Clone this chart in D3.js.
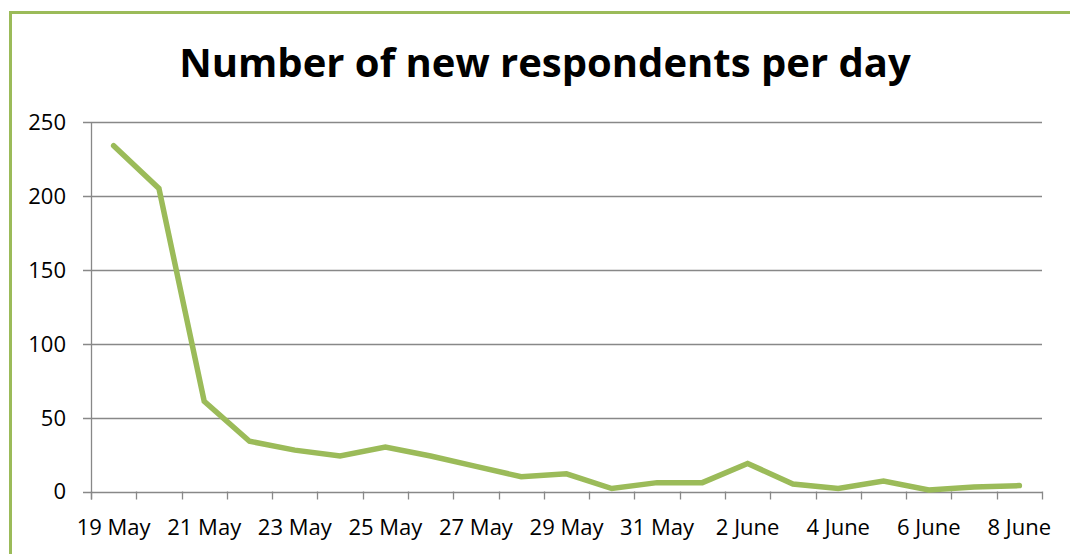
<!DOCTYPE html>
<html><head><meta charset="utf-8">
<script src="https://cdn.jsdelivr.net/npm/d3@7"></script>
<style>html,body{margin:0;padding:0;background:#fff;}svg{display:block;}</style>
</head><body>
<svg id="chart" width="1070" height="554"></svg>
<script>
const categories = ["19 May","20 May","21 May","22 May","23 May","24 May","25 May","26 May","27 May","28 May","29 May","30 May","31 May","1 June","2 June","3 June","4 June","5 June","6 June","7 June","8 June"];
const values = [234,205,61,34,28,24,30,24,17,10,12,2,6,6,19,5,2,7,1,3,4];
const yTicks = [0,50,100,150,200,250];
const title = "Number of new respondents per day";

const svg = d3.select("#chart");
const green = "#9BBB59";
const grid = "#888888";
const plotLeft = 91, plotRight = 1042, plotTop = 122, plotBottom = 491.5;

// frame
svg.append("path").attr("d", `M10.5,554 L10.5,12.5 L1070,12.5`).attr("fill","none").attr("stroke",green).attr("stroke-width",3);

svg.append("text").attr("x",545).attr("y",77).attr("text-anchor","middle")
  .attr("font-family","'Open Sans', sans-serif").attr("font-weight","bold").attr("font-size",40)
  .attr("fill","#000").text(title);

const x = d3.scaleBand().domain(categories).range([plotLeft,plotRight]).padding(0);
const y = d3.scaleLinear().domain([0,250]).range([plotBottom,plotTop]);

// gridlines
svg.append("g").selectAll("line").data(yTicks).join("line")
  .attr("x1",plotLeft-8).attr("x2",plotRight).attr("y1",d=>Math.round(y(d))+0.5).attr("y2",d=>Math.round(y(d))+0.5)
  .attr("stroke",grid).attr("stroke-width",1.3);
// y axis line
svg.append("line").attr("x1",plotLeft+0.5).attr("x2",plotLeft+0.5).attr("y1",plotTop).attr("y2",plotBottom+8)
  .attr("stroke",grid).attr("stroke-width",1.3);
// x ticks at band boundaries
const bounds = categories.map(c=>x(c)).concat([plotRight]);
svg.append("g").selectAll("line").data(bounds).join("line")
  .attr("x1",d=>Math.round(d)+0.5).attr("x2",d=>Math.round(d)+0.5).attr("y1",plotBottom).attr("y2",plotBottom+8)
  .attr("stroke",grid).attr("stroke-width",1.3);

// y labels
svg.append("g").selectAll("text").data(yTicks).join("text")
  .attr("x",66).attr("y",d=>y(d)).attr("dy","0.36em").attr("text-anchor","end")
  .attr("font-family","'Open Sans', sans-serif").attr("font-size",22).attr("fill","#000").text(d=>d);

// x labels every other
svg.append("g").selectAll("text").data(categories.filter((c,i)=>i%2===0)).join("text")
  .attr("x",d=>x(d)+x.bandwidth()/2).attr("y",535).attr("text-anchor","middle")
  .attr("font-family","'Open Sans', sans-serif").attr("font-size",22).attr("fill","#000").text(d=>d);

// line
const line = d3.line().x((d,i)=>x(categories[i])+x.bandwidth()/2).y(d=>y(d));
svg.append("path").datum(values).attr("d",line).attr("fill","none").attr("stroke",green)
  .attr("stroke-width",5.5).attr("stroke-linejoin","miter").attr("stroke-linecap","round");
</script>
</body></html>
